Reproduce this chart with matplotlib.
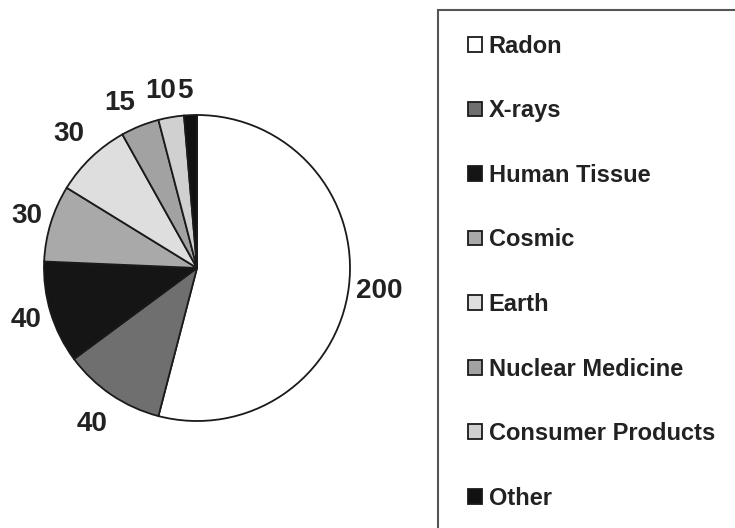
import matplotlib
matplotlib.use("Agg")
import numpy as np
import matplotlib.pyplot as plt
from matplotlib.patches import Rectangle

categories = ["Radon", "X-rays", "Human Tissue", "Cosmic", "Earth",
              "Nuclear Medicine", "Consumer Products", "Other"]
values = [200, 40, 40, 30, 30, 15, 10, 5]
colors = ["#ffffff", "#6f6f6f", "#151515", "#a9a9a9", "#dedede",
          "#a2a2a2", "#d0d0d0", "#111111"]

# label placement tweaks: (angle nudge in degrees, distance in radii)
label_layout = [(0, 1.20), (0, 1.23), (0, 1.17), (0, 1.16),
                (0, 1.21), (3.2, 1.19), (2.0, 1.18), (1.5, 1.16)]

plt.rcParams['font.family'] = ['Liberation Sans', 'DejaVu Sans']

W, H = 735, 528
fig = plt.figure(figsize=(W / 100, H / 100), dpi=100)
fig.patch.set_facecolor("white")

cx, cy, r = 197, 268, 153
ax = fig.add_axes([(cx - r) / W, (H - cy - r) / H, 2 * r / W, 2 * r / H])
wedges, texts = ax.pie(values, colors=colors, startangle=90, counterclock=False,
                       labels=[str(v) for v in values], labeldistance=1.19,
                       wedgeprops=dict(edgecolor="#1a1a1a", linewidth=1.3),
                       textprops=dict(fontsize=20, fontweight="bold", color="#222222"))
for w, t, (dang, dist) in zip(wedges, texts, label_layout):
    mid = np.deg2rad((w.theta1 + w.theta2) / 2 + dang)
    t.set_position((dist * np.cos(mid), dist * np.sin(mid)))
    t.set_ha("center")
    t.set_va("center")
ax.set_xlim(-1, 1)
ax.set_ylim(-1, 1)
ax.set_aspect("equal")
ax.axis("off")

# legend box (extends beyond the figure edge as in the reference)
fig.patches.append(Rectangle((438 / W, -0.05), 0.5, (H - 10) / H + 0.05,
                             transform=fig.transFigure, facecolor="white",
                             edgecolor="#555555", linewidth=1.5, zorder=0))

leg = fig.legend(wedges, categories, loc="upper left",
                 bbox_to_anchor=(456 / W, (H - 23) / H),
                 frameon=False, fontsize=17, handlelength=0.58, handleheight=0.58,
                 handletextpad=0.3, labelspacing=1.76, borderpad=0)
for txt in leg.get_texts():
    txt.set_fontweight("bold")
    txt.set_color("#222222")

fig.savefig("out.png", dpi=100)
